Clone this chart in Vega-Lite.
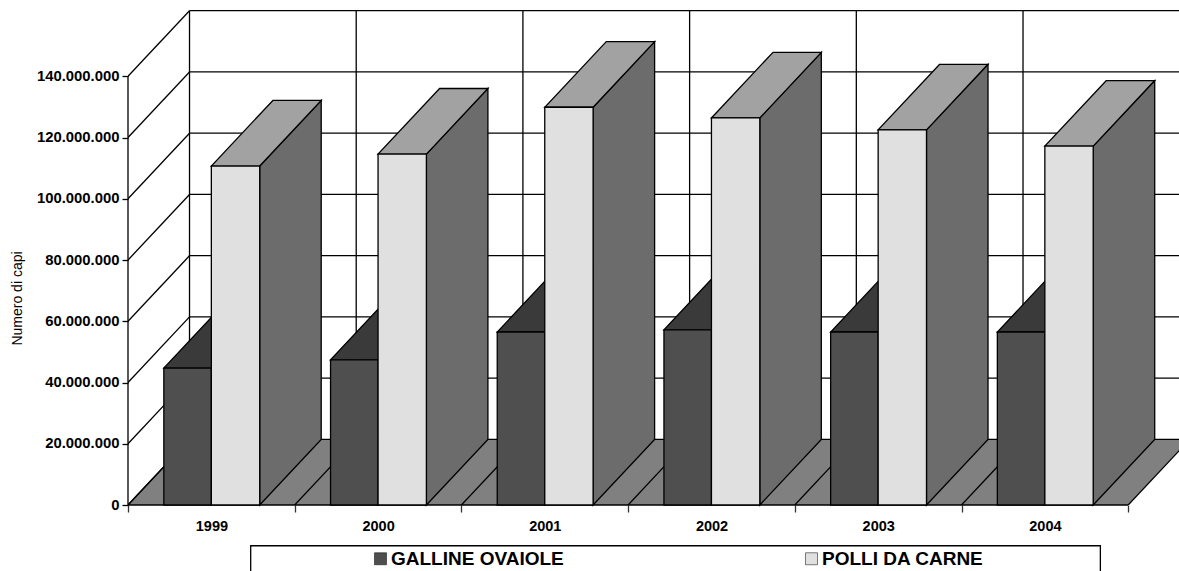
{
"$schema":"https://vega.github.io/schema/vega-lite/v6.json",
"autosize":{"type":"none"},
"padding":{"left":128,"top":0,"right":0,"bottom":66},
"width":1051,"height":505,
"background":"white",
"config":{"view":{"stroke":null},"font":"Liberation Sans"},
"datasets":{
"bars":[
{"id":"G1999","series":"GALLINE OVAIOLE","x":0.215,"xe":0.5,"value":44700000},
{"id":"G2000","series":"GALLINE OVAIOLE","x":1.215,"xe":1.5,"value":47400000},
{"id":"G2001","series":"GALLINE OVAIOLE","x":2.215,"xe":2.5,"value":56500000},
{"id":"G2002","series":"GALLINE OVAIOLE","x":3.215,"xe":3.5,"value":57200000},
{"id":"G2003","series":"GALLINE OVAIOLE","x":4.215,"xe":4.5,"value":56500000},
{"id":"G2004","series":"GALLINE OVAIOLE","x":5.215,"xe":5.5,"value":56500000},
{"id":"P1999","series":"POLLI DA CARNE","x":0.5,"xe":0.79,"value":110700000},
{"id":"P2000","series":"POLLI DA CARNE","x":1.5,"xe":1.79,"value":114600000},
{"id":"P2001","series":"POLLI DA CARNE","x":2.5,"xe":2.79,"value":129900000},
{"id":"P2002","series":"POLLI DA CARNE","x":3.5,"xe":3.79,"value":126400000},
{"id":"P2003","series":"POLLI DA CARNE","x":4.5,"xe":4.79,"value":122500000},
{"id":"P2004","series":"POLLI DA CARNE","x":5.5,"xe":5.79,"value":117200000}
],
"levels":[{"v":0},{"v":20000000},{"v":40000000},{"v":60000000},{"v":80000000},{"v":100000000},{"v":120000000},{"v":140000000}],
"cats":[{"i":0},{"i":1},{"i":2},{"i":3},{"i":4},{"i":5},{"i":6}]
},
"encoding":{
"x":{"field":"x","type":"quantitative","title":null,
"scale":{"domain":[0,6.3047],"nice":false,"zero":false},
"axis":{"values":[0,1,2,3,4,5,6],"domain":false,"grid":false,"tickSize":7,"tickColor":"#333333","tickWidth":1.3,"labelOffset":83.4,"labelExpr":"datum.value<6?toString(1999+datum.value):''","labelFont":"Liberation Sans","labelFontSize":14.5,"labelFontWeight":"bold","labelColor":"black","labelPadding":7,"labelAngle":0,"labelFlush":false,"labelOverlap":false,"zindex":0}},
"y":{"field":"y","type":"quantitative",
"scale":{"domain":[0,164920000],"nice":false,"zero":false},
"axis":{"values":[0,20000000,40000000,60000000,80000000,100000000,120000000,140000000],"domain":false,"grid":false,"tickSize":6,"tickColor":"black","tickWidth":1.3,"labelExpr":"replace(format(datum.value,','),/,/g,'.')","labelFont":"Liberation Sans","labelFontSize":14.85,"labelFontWeight":"bold","labelColor":"black","labelPadding":3,"title":"Numero di capi","titleFont":"Liberation Sans","titleFontSize":14,"titleFontWeight":"normal","titleColor":"black","titleX":-104,"titleY":298,"zindex":0}}
},
"layer":[
{"data":{"values":[{"f":0}]},
 "transform":[{"calculate":"[0,1]","as":"k"},{"flatten":["k"]},{"calculate":"datum.k*0.369","as":"x"},{"calculate":"6+datum.k*0.369","as":"xe"},{"calculate":"datum.k*21420000","as":"y"}],
 "mark":{"type":"area","orient":"horizontal","fill":"#808080","clip":true},
 "encoding":{"x2":{"field":"xe"}}},
{"data":{"name":"levels"},
 "transform":[{"calculate":"0","as":"x"},{"calculate":"0.369","as":"xe"},{"calculate":"datum.v","as":"y"},{"calculate":"datum.v+21420000","as":"ye"}],
 "mark":{"type":"rule","stroke":"black","strokeWidth":1.3,"clip":true},
 "encoding":{"x2":{"field":"xe"},"y2":{"field":"ye"}}},
{"data":{"name":"levels"},
 "transform":[{"calculate":"0.369","as":"x"},{"calculate":"6.369","as":"xe"},{"calculate":"datum.v+21420000","as":"y"}],
 "mark":{"type":"rule","stroke":"black","strokeWidth":1.3,"clip":true},
 "encoding":{"x2":{"field":"xe"}}},
{"data":{"name":"cats"},
 "transform":[{"calculate":"datum.i+0.369","as":"x"},{"calculate":"21420000","as":"y"},{"calculate":"161420000","as":"ye"}],
 "mark":{"type":"rule","stroke":"black","strokeWidth":1.3,"clip":true},
 "encoding":{"y2":{"field":"ye"}}},
{"data":{"name":"cats"},
 "transform":[{"calculate":"datum.i","as":"x"},{"calculate":"datum.i+0.369","as":"xe"},{"calculate":"0","as":"y"},{"calculate":"21420000","as":"ye"}],
 "mark":{"type":"rule","stroke":"black","strokeWidth":1.3,"clip":true},
 "encoding":{"x2":{"field":"xe"},"y2":{"field":"ye"}}},
{"data":{"values":[{"x":0,"y":0,"ye":140000000}]},
 "mark":{"type":"rule","stroke":"black","strokeWidth":1.3},
 "encoding":{"y2":{"field":"ye"}}},
{"data":{"values":[{"x":0,"xe":6,"y":0}]},
 "mark":{"type":"rule","stroke":"black","strokeWidth":1.3},
 "encoding":{"x2":{"field":"xe"}}},
{"data":{"name":"bars"},
 "transform":[{"filter":"datum.series=='GALLINE OVAIOLE'"},{"calculate":"[0,1]","as":"k"},{"flatten":["k"]},{"calculate":"datum.x+datum.k*0.369","as":"x"},{"calculate":"datum.xe+datum.k*0.369","as":"xe"},{"calculate":"datum.value+datum.k*21420000","as":"y"}],
 "mark":{"type":"area","orient":"horizontal","fill":"#3a3a3a","stroke":"black","strokeWidth":1.3},
 "encoding":{"x2":{"field":"xe"},"detail":{"field":"id"}}},
{"data":{"name":"bars"},
 "transform":[{"filter":"datum.series=='GALLINE OVAIOLE'"},{"calculate":"0","as":"y"}],
 "mark":{"type":"rect","stroke":"black","strokeWidth":1.3},
 "encoding":{"x2":{"field":"xe"},"y2":{"field":"value"},"fill":{"field":"series","type":"nominal","scale":{"domain":["GALLINE OVAIOLE","POLLI DA CARNE"],"range":["#4f4f4f","#e0e0e0"]},
  "legend":{"title":null,"orient":"none","legendX":243,"legendY":549,"columns":2,"columnPadding":238,"symbolType":"square","symbolSize":144,"symbolStrokeColor":"black","symbolStrokeWidth":0.5,"labelFont":"Liberation Sans","labelFontSize":19,"labelFontWeight":"bold","labelColor":"black","labelOffset":1,"padding":0,"labelLimit":300,"gridAlign":"each"}}}},
{"data":{"name":"bars"},
 "transform":[{"filter":"datum.series=='POLLI DA CARNE'"},{"calculate":"[0,1]","as":"k"},{"flatten":["k"]},{"calculate":"datum.xe+datum.k*0.369","as":"x"},{"calculate":"datum.k*21420000","as":"y"},{"calculate":"datum.value+datum.k*21420000","as":"ye"}],
 "mark":{"type":"area","orient":"vertical","fill":"#6c6c6c","stroke":"black","strokeWidth":1.3},
 "encoding":{"y2":{"field":"ye"},"detail":{"field":"id"}}},
{"data":{"name":"bars"},
 "transform":[{"filter":"datum.series=='POLLI DA CARNE'"},{"calculate":"[0,1]","as":"k"},{"flatten":["k"]},{"calculate":"datum.x+datum.k*0.369","as":"x"},{"calculate":"datum.xe+datum.k*0.369","as":"xe"},{"calculate":"datum.value+datum.k*21420000","as":"y"}],
 "mark":{"type":"area","orient":"horizontal","fill":"#a2a2a2","stroke":"black","strokeWidth":1.3},
 "encoding":{"x2":{"field":"xe"},"detail":{"field":"id"}}},
{"data":{"name":"bars"},
 "transform":[{"filter":"datum.series=='POLLI DA CARNE'"},{"calculate":"0","as":"y"}],
 "mark":{"type":"rect","stroke":"black","strokeWidth":1.3},
 "encoding":{"x2":{"field":"xe"},"y2":{"field":"value"},"fill":{"field":"series","type":"nominal"}}},
{"data":{"values":[{"x":0.736,"xe":5.833,"y":-13300000,"ye":-30000000}]},
 "mark":{"type":"rect","fill":null,"stroke":"black","strokeWidth":1.3},
 "encoding":{"x2":{"field":"xe"},"y2":{"field":"ye"}}}
]
}
